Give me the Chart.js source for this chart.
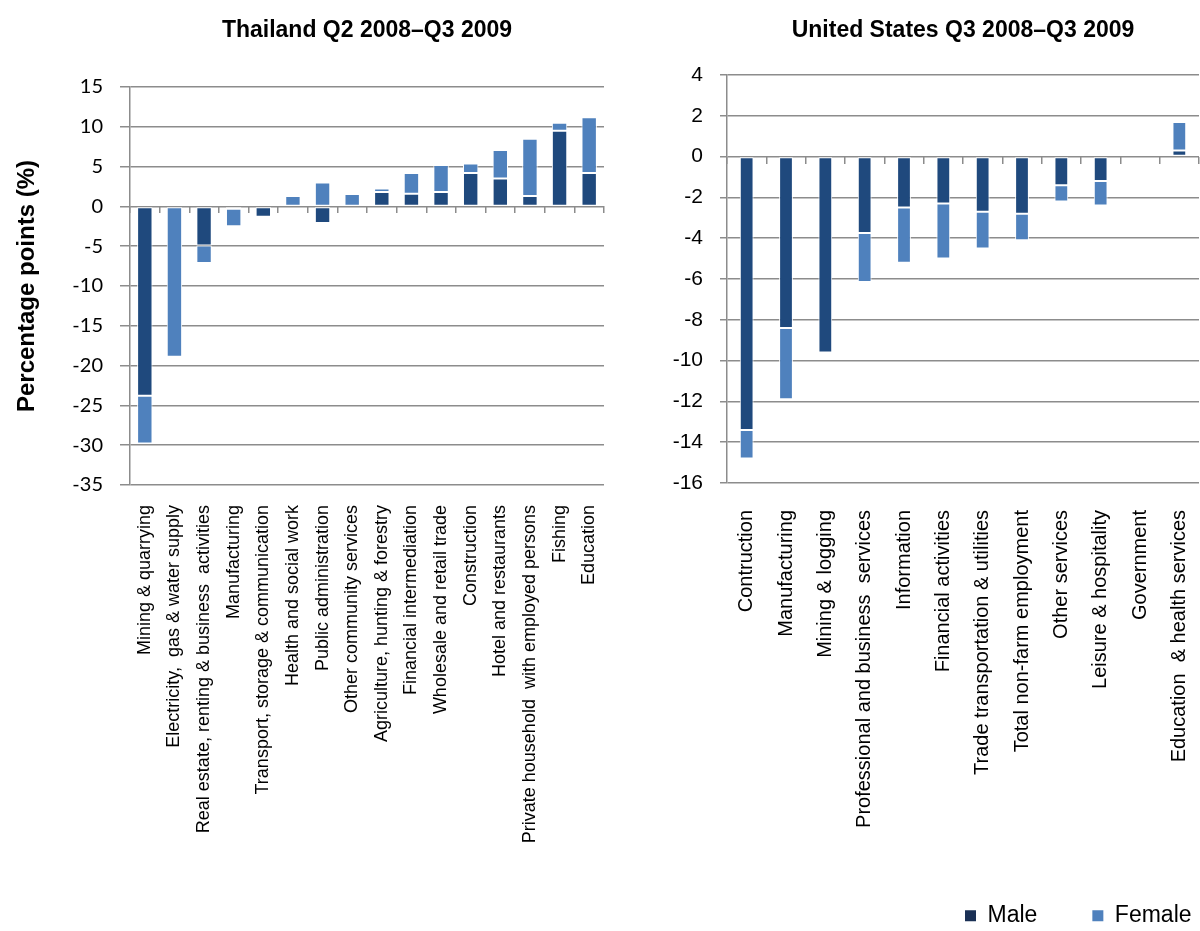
<!DOCTYPE html>
<html><head><meta charset="utf-8">
<script src="https://cdn.jsdelivr.net/npm/chart.js@4.4.1/dist/chart.umd.min.js"></script>
<style>
html,body{margin:0;padding:0;background:#fff;overflow:hidden;width:1200px;height:931px;}
#a{position:absolute;left:0;top:0;width:620px;height:931px;}
#b{position:absolute;left:615px;top:0;width:590px;height:931px;}
</style></head><body>
<div id="a"><canvas id="ca"></canvas></div>
<div id="b"><canvas id="cb"></canvas></div>
<script>
const thaiCategories = [
  'Mining & quarrying',
  'Electricity,  gas & water supply',
  'Real estate, renting & business  activities',
  'Manufacturing',
  'Transport, storage & communication',
  'Health and social work',
  'Public administration',
  'Other community services',
  'Agriculture, hunting & forestry',
  'Financial intermediation',
  'Wholesale and retail trade',
  'Construction',
  'Hotel and restaurants',
  'Private household  with employed persons',
  'Fishing',
  'Education'
];
const thaiMale   = [-23.8, 0, -4.9, -0.3, -1.3, 0, -2.1, 0, 1.8, 1.6, 1.8, 4.2, 3.5, 1.3, 9.5, 4.2];
const thaiFemale = [-6.0, -18.9, -2.2, -2.2, 0, 1.3, 3.0, 1.55, 0.45, 2.6, 3.4, 1.2, 3.6, 7.2, 1.0, 7.0];
const thaiYMin = -35, thaiYMax = 15, thaiYStep = 5;

const usCategories = [
  'Contruction',
  'Manufacturing',
  'Mining & logging',
  'Professional and business  services',
  'Information',
  'Financial activities',
  'Trade transportation & utilities',
  'Total non-farm employment',
  'Other services',
  'Leisure & hospitality',
  'Government',
  'Education  & health services'
];
const usMale   = [-13.4, -8.4, -9.6, -3.75, -2.5, -2.3, -2.7, -2.8, -1.4, -1.2, 0, 0.3];
const usFemale = [-1.4, -3.5, 0, -2.4, -2.7, -2.7, -1.8, -1.3, -0.8, -1.2, 0, 1.4];
const usYMin = -16, usYMax = 4, usYStep = 2;

const seriesNames = ['Male', 'Female'];
const MALE = '#1F497D';
const FEMALE = '#4F81BD';
const LEGEND_COLORS = ['#1a3055', '#4F81BD'];
const GRID = '#8c8c8c';

Chart.defaults.font.family = '"Liberation Sans", Arial, sans-serif';
Chart.defaults.color = '#000';

function datasets(m, f) {
  return [
    {label: seriesNames[0], data: m, backgroundColor: MALE, borderColor: '#ffffff', borderWidth: 1, borderSkipped: false},
    {label: seriesNames[1], data: f, backgroundColor: FEMALE, borderColor: '#ffffff', borderWidth: 1, borderSkipped: false}
  ];
}

// Thailand
new Chart(document.getElementById('ca'), {
  type: 'bar',
  data: {labels: thaiCategories, datasets: datasets(thaiMale, thaiFemale)},
  options: {
    responsive: true, maintainAspectRatio: false, animation: false,
    layout: {padding: {left: 0, right: 16, top: 0, bottom: 0}},
    datasets: {bar: {categoryPercentage: 0.52, barPercentage: 1}},
    plugins: {
      legend: {display: false},
      tooltip: {enabled: false},
      title: {display: true, fullSize: false, text: 'Thailand Q2 2008–Q3 2009', color: '#000',
        font: {size: 23, weight: 'bold'}, padding: {top: 17, bottom: 42.4}}
    },
    scales: {
      x: {type: 'category', stacked: true,
        grid: {display: true, drawOnChartArea: false, drawTicks: true, tickLength: 20, color: 'rgba(0,0,0,0)'},
        border: {display: false},
        ticks: {autoSkip: false, minRotation: 90, maxRotation: 90, padding: 0, font: {size: 18}, color: '#000'},
        afterFit: s => { s.height = 446; }},
      x2: {type: 'category', position: {y: 0}, offset: true,
        grid: {offset: true, drawOnChartArea: false, drawTicks: true, tickLength: 7, color: GRID, lineWidth: 1.5},
        border: {display: false}, ticks: {display: false}},
      y: {type: 'linear', stacked: true, min: thaiYMin, max: thaiYMax,
        ticks: {stepSize: thaiYStep, font: {family: 'Lato', size: 20}, color: '#000', padding: 17},
        grid: {color: GRID, lineWidth: 1.5, tickLength: 10},
        border: {display: true, color: GRID, width: 1.5},
        title: {display: true, text: 'Percentage points (%)', color: '#000', font: {size: 24, weight: 'bold'}, padding: {top: 12.6, bottom: 0}},
        afterFit: s => { s.width = 130; }}
    }
  }
});

// United States
const LEGEND_PAD = 55;
const legendPlace = {
  id: 'legendPlace',
  afterLayout(chart) {
    const L = chart.legend;
    if (!L || !L.lineWidths) return;
    const dx = 350 - (L.right - L.lineWidths[0]);
    const dy = 918 - (L.top + LEGEND_PAD + 13.8);
    L.left += dx; L.right += dx; L.top += dy; L.bottom += dy;
  }
};
new Chart(document.getElementById('cb'), {
  type: 'bar',
  data: {labels: usCategories, datasets: datasets(usMale, usFemale)},
  plugins: [legendPlace],
  options: {
    responsive: true, maintainAspectRatio: false, animation: false,
    layout: {padding: {left: 0, right: 6, top: 0, bottom: 0}},
    datasets: {bar: {categoryPercentage: 0.35, barPercentage: 1}},
    plugins: {
      tooltip: {enabled: false},
      legend: {display: true, position: 'bottom', align: 'end',
        labels: {boxWidth: 11, boxHeight: 11, padding: LEGEND_PAD, font: {size: 23}, color: '#000',
          generateLabels: chart => Chart.defaults.plugins.legend.labels.generateLabels(chart)
            .map((l, i) => Object.assign(l, {lineWidth: 0, fillStyle: LEGEND_COLORS[i]}))}},
      title: {display: true, fullSize: false, text: 'United States Q3 2008–Q3 2009', color: '#000',
        font: {size: 23, weight: 'bold'}, padding: {top: 17, bottom: 30.4}}
    },
    scales: {
      x: {type: 'category', stacked: true,
        grid: {display: true, drawOnChartArea: false, drawTicks: true, tickLength: 27, color: 'rgba(0,0,0,0)'},
        border: {display: false},
        ticks: {autoSkip: false, minRotation: 90, maxRotation: 90, padding: 0, font: {size: 20}, color: '#000'},
        afterFit: s => { const lh = s.chart.legend ? s.chart.legend.height : 0; s.height = s.chart.height - lh - 483; }},
      x2: {type: 'category', position: {y: 0}, offset: true,
        grid: {offset: true, drawOnChartArea: false, drawTicks: true, tickLength: 7, color: GRID, lineWidth: 1.5},
        border: {display: false}, ticks: {display: false}},
      y: {type: 'linear', stacked: true, min: usYMin, max: usYMax,
        ticks: {stepSize: usYStep, font: {size: 21}, color: '#000', padding: 17},
        grid: {color: GRID, lineWidth: 1.5, tickLength: 7},
        border: {display: true, color: GRID, width: 1.5},
        afterFit: s => { s.width = 112; }}
    }
  }
});
</script>
</body></html>
